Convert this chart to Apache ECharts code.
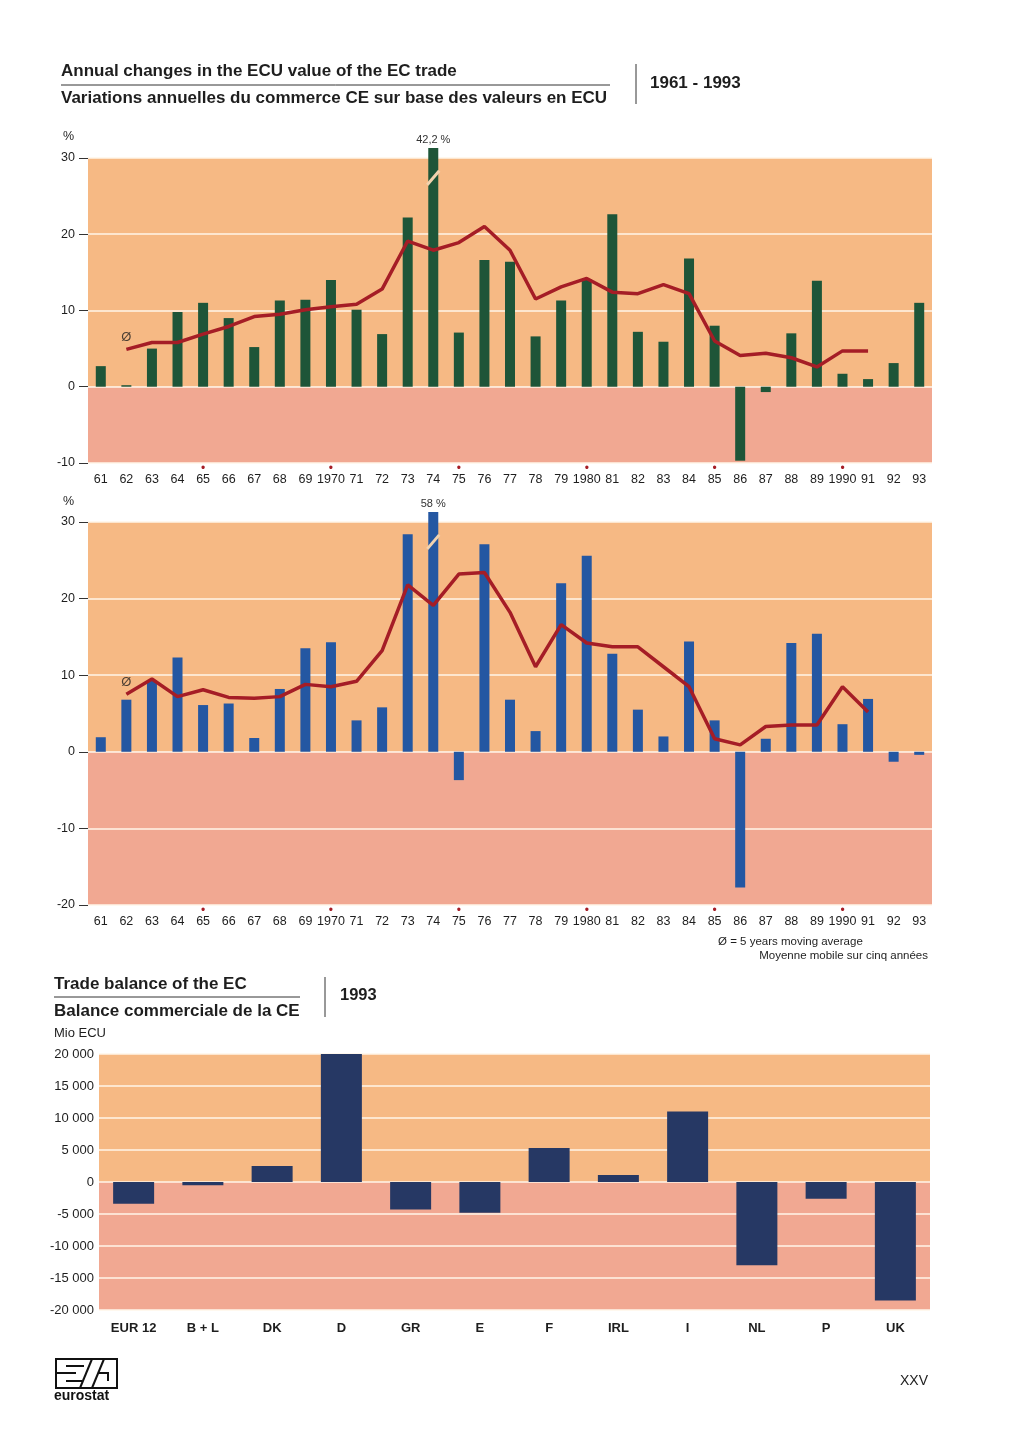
<!DOCTYPE html>
<html><head><meta charset="utf-8">
<script src="https://cdn.jsdelivr.net/npm/echarts@6.0.0/dist/echarts.min.js"></script>
<style>html,body{margin:0;padding:0;background:#fff}#c{width:1024px;height:1448px}</style>
</head><body><div id="c"></div>
<script>
// ---------- data ----------
const years = ['61','62','63','64','65','66','67','68','69','70','71','72','73','74','75','76','77','78','79','80','81','82','83','84','85','86','87','88','89','90','91','92','93'];
const yearLabels = ['61','62','63','64','65','66','67','68','69','1970','71','72','73','74','75','76','77','78','79','1980','81','82','83','84','85','86','87','88','89','1990','91','92','93'];
const markedYears = ['65','1970','75','1980','85','1990'];
const exportChange = [2.7,0.2,5.0,9.8,11.0,9.0,5.2,11.3,11.4,14.0,10.1,6.9,22.2,42.2,7.1,16.6,16.4,6.6,11.3,14.1,22.6,7.2,5.9,16.8,8.0,-9.7,-0.7,7.0,13.9,1.7,1.0,3.1,11.0];
const exportAvg = [null,4.9,5.8,5.8,6.9,7.9,9.2,9.5,10.1,10.5,10.8,12.8,19.1,17.9,18.9,21.0,17.9,11.5,13.1,14.2,12.4,12.2,13.4,12.2,6.0,4.1,4.4,3.8,2.6,4.7,4.7,null,null];
const importChange = [1.9,6.8,9.3,12.3,6.1,6.3,1.8,8.2,13.5,14.3,4.1,5.8,28.4,58,-3.7,27.1,6.8,2.7,22.0,25.6,12.8,5.5,2.0,14.4,4.1,-17.7,1.7,14.2,15.4,3.6,6.9,-1.3,-0.4];
const importAvg = [null,7.5,9.5,7.2,8.1,7.1,7.0,7.2,8.8,8.5,9.2,13.2,21.8,19.1,23.2,23.4,18.2,11.1,16.6,14.2,13.7,13.7,11.1,8.5,1.7,0.9,3.3,3.5,3.5,8.5,5.2,null,null];
const exportTicks = [-10,0,10,20,30];
const importTicks = [-20,-10,0,10,20,30];
const countries = ['EUR 12','B + L','DK','D','GR','E','F','IRL','I','NL','P','UK'];
const balance = [-3400,-500,2500,20000,-4300,-4800,5300,1100,11000,-13000,-2600,-18500];
const balanceTicks = [-20000,-15000,-10000,-5000,0,5000,10000,15000,20000];

// ---------- style ----------
const F = '"Liberation Sans", Arial, Helvetica, sans-serif';
const ORANGE = '#F6B984';
const PINK = '#F1A892';
const TXT = '#1e1e1e';
const RED = '#A51D26';
const GREEN = '#1E5538';
const BLUE = '#2457A2';
const NAVY = '#263864';
const BREAK_AT = 27.4;

const chart = echarts.init(document.getElementById('c'), null, {renderer:'canvas', width:1024, height:1448});

function bandItem(params, api){
  const cs = params.coordSys;
  const y1 = api.coord([0, api.value(1)])[1];
  const y2 = api.coord([0, api.value(2)])[1];
  return {type:'rect', shape:{x:cs.x, y:y1, width:cs.width, height:y2-y1},
    style:{fill: api.value(1) > 0 ? ORANGE : PINK}};
}
function breakItem(params, api){
  const cs = params.coordSys;
  const x = api.coord([api.value(0), 0])[0];
  const y = api.coord([api.value(0), BREAK_AT])[1];
  const v = api.value(1);
  return {type:'group', children:[
    {type:'line', shape:{x1:x-6, y1:y+7, x2:x+6, y2:y-7}, style:{stroke:'#F2D2AE', lineWidth:3}},
    {type:'text', style:{text:String(v).replace('.', ',') + ' %', x:x, y:cs.y-3, align:'center', verticalAlign:'bottom', font:'11px '+F, fill:'#333'}}
  ]};
}
function yearAxis(gridIndex){
  return {type:'category', gridIndex, data:years, boundaryGap:true,
    axisLine:{show:false}, axisTick:{show:false}, splitLine:{show:false},
    axisLabel:{interval:0, margin:1, hideOverlap:false,
      formatter:(v,i)=>{const lab=yearLabels[i]; return (markedYears.includes(lab)?'{d|•}':'{e|•}')+'\n{n|'+lab+'}';},
      rich:{d:{color:RED, fontSize:12, lineHeight:9, fontFamily:F},
            e:{color:'rgba(0,0,0,0)', fontSize:12, lineHeight:9, fontFamily:F},
            n:{color:TXT, fontSize:12.5, lineHeight:14, fontFamily:F}}}};
}
function pctAxis(gridIndex, min, max, ticks){
  return {type:'value', gridIndex, min, max, interval:10, z:1,
    axisLine:{show:false},
    axisTick:{show:true, length:9, customValues:ticks, lineStyle:{color:'#333', width:1}},
    axisLabel:{margin:13, customValues:ticks, color:TXT, fontSize:12.5, fontFamily:F,
      formatter:v=> ticks.includes(v) ? String(v) : ''},
    splitLine:{show:true, lineStyle:{color:'#FFF6E8', width:1.5}}};
}
function firstIdx(arr){ return arr.findIndex(v=>v!==null); }
function overMax(arr, max){ return arr.map((v,i)=> v>max ? [i,v] : null).filter(Boolean); }

const EXP_MAX = 31.3, IMP_MAX = 31.3;
const ei = firstIdx(exportAvg), ii = firstIdx(importAvg);

const option = {
  backgroundColor:'#ffffff',
  animation:false,
  textStyle:{fontFamily:F},
  grid:[
    {left:88, right:92, top:148, height:315, outerBoundsMode:'none'},
    {left:88, right:92, top:512, height:393, outerBoundsMode:'none'},
    {left:99, right:94, top:1054, height:256, outerBoundsMode:'none'}
  ],
  xAxis:[
    yearAxis(0), yearAxis(1),
    {type:'category', gridIndex:2, data:countries, boundaryGap:true,
      axisLine:{show:false}, axisTick:{show:false}, splitLine:{show:false},
      axisLabel:{interval:0, margin:12, color:TXT, fontSize:13, fontWeight:'bold', fontFamily:F}}
  ],
  yAxis:[
    pctAxis(0, -10, EXP_MAX, exportTicks),
    pctAxis(1, -20, IMP_MAX, importTicks),
    {type:'value', gridIndex:2, min:-20000, max:20000, interval:5000, z:1,
      axisLine:{show:false}, axisTick:{show:false},
      axisLabel:{margin:5, color:TXT, fontSize:13, fontFamily:F,
        formatter:v=> (v<0?'-':'') + String(Math.abs(v)).replace(/\B(?=(\d{3})+(?!\d))/g,' ')},
      splitLine:{show:true, lineStyle:{color:'#FFF6E8', width:1.5}}}
  ],
  series:[
    // backgrounds
    {type:'custom', xAxisIndex:0, yAxisIndex:0, z:0, silent:true, renderItem:bandItem, encode:{x:0, y:[1,2]}, data:[[0,30,0],[0,0,-10]]},
    {type:'custom', xAxisIndex:1, yAxisIndex:1, z:0, silent:true, renderItem:bandItem, encode:{x:0, y:[1,2]}, data:[[0,30,0],[0,0,-20]]},
    {type:'custom', xAxisIndex:2, yAxisIndex:2, z:0, silent:true, renderItem:bandItem, encode:{x:0, y:[1,2]}, data:[[0,20000,0],[0,0,-20000]]},
    // export
    {type:'bar', name:'Export', xAxisIndex:0, yAxisIndex:0, z:2, barWidth:10, clip:true, itemStyle:{color:GREEN}, data:exportChange},
    {type:'line', name:'Export Ø', xAxisIndex:0, yAxisIndex:0, z:3, symbol:'none', lineStyle:{color:RED, width:3.5}, data:exportAvg},
    {type:'scatter', xAxisIndex:0, yAxisIndex:0, z:4, symbolSize:2, itemStyle:{color:'rgba(0,0,0,0)'},
      label:{show:true, formatter:'Ø', position:'top', distance:4, color:TXT, fontSize:13, fontFamily:F}, data:[[ei, exportAvg[ei]]]},
    {type:'custom', xAxisIndex:0, yAxisIndex:0, z:5, silent:true, renderItem:breakItem, encode:{x:0, y:1}, data:overMax(exportChange, EXP_MAX)},
    // import
    {type:'bar', name:'Import', xAxisIndex:1, yAxisIndex:1, z:2, barWidth:10, clip:true, itemStyle:{color:BLUE}, data:importChange},
    {type:'line', name:'Import Ø', xAxisIndex:1, yAxisIndex:1, z:3, symbol:'none', lineStyle:{color:RED, width:3.5}, data:importAvg},
    {type:'scatter', xAxisIndex:1, yAxisIndex:1, z:4, symbolSize:2, itemStyle:{color:'rgba(0,0,0,0)'},
      label:{show:true, formatter:'Ø', position:'top', distance:4, color:TXT, fontSize:13, fontFamily:F}, data:[[ii, importAvg[ii]]]},
    {type:'custom', xAxisIndex:1, yAxisIndex:1, z:5, silent:true, renderItem:breakItem, encode:{x:0, y:1}, data:overMax(importChange, IMP_MAX)},
    // balance
    {type:'bar', name:'Balance', xAxisIndex:2, yAxisIndex:2, z:2, barWidth:41, itemStyle:{color:NAVY}, data:balance}
  ],
  graphic:[
    {type:'text', left:61, top:63, style:{text:'Annual changes in the ECU value of the EC trade', font:'bold 17px '+F, fill:TXT}},
    {type:'line', shape:{x1:61, y1:85, x2:610, y2:85}, style:{stroke:'#333', lineWidth:1}},
    {type:'text', left:61, top:90, style:{text:'Variations annuelles du commerce CE sur base des valeurs en ECU', font:'bold 17px '+F, fill:TXT}},
    {type:'line', shape:{x1:636, y1:64, x2:636, y2:104}, style:{stroke:'#333', lineWidth:1}},
    {type:'text', left:650, top:75, style:{text:'1961 - 1993', font:'bold 17px '+F, fill:TXT}},
    {type:'text', left:63, top:130, style:{text:'%', font:'12.5px '+F, fill:TXT}},
    {type:'text', left:113, top:168, style:{text:'Export\nExtra', font:'16px '+F, fill:TXT, lineHeight:21}},
    {type:'text', left:63, top:495, style:{text:'%', font:'12.5px '+F, fill:TXT}},
    {type:'text', left:111, top:531, style:{text:'Import\nExtra', font:'16px '+F, fill:TXT, lineHeight:21}},
    {type:'text', left:718, top:936, style:{text:'Ø = 5 years moving average', font:'11.5px '+F, fill:TXT}},
    {type:'text', right:96, top:950, style:{text:'Moyenne mobile sur cinq années', font:'11.5px '+F, fill:TXT}},
    {type:'text', left:54, top:976, style:{text:'Trade balance of the EC', font:'bold 17px '+F, fill:TXT}},
    {type:'line', shape:{x1:54, y1:997, x2:300, y2:997}, style:{stroke:'#333', lineWidth:1}},
    {type:'text', left:54, top:1003, style:{text:'Balance commerciale de la CE', font:'bold 17px '+F, fill:TXT}},
    {type:'line', shape:{x1:325, y1:977, x2:325, y2:1017}, style:{stroke:'#333', lineWidth:1}},
    {type:'text', left:340, top:987, style:{text:'1993', font:'bold 16.5px '+F, fill:TXT}},
    {type:'text', left:54, top:1027, style:{text:'Mio ECU', font:'13px '+F, fill:TXT}},
    {type:'text', right:96, top:1374, style:{text:'XXV', font:'14px '+F, fill:TXT}},
    // eurostat logo
    {type:'group', children:[
      {type:'rect', shape:{x:56, y:1359, width:61, height:29}, style:{fill:'none', stroke:'#111', lineWidth:2}},
      {type:'polyline', shape:{points:[[56,1373],[76,1373]]}, style:{stroke:'#111', lineWidth:2}},
      {type:'polyline', shape:{points:[[66,1366],[84,1366]]}, style:{stroke:'#111', lineWidth:2}},
      {type:'polyline', shape:{points:[[66,1381],[82,1381]]}, style:{stroke:'#111', lineWidth:2}},
      {type:'line', shape:{x1:80, y1:1388, x2:92, y2:1359}, style:{stroke:'#111', lineWidth:2}},
      {type:'line', shape:{x1:92, y1:1388, x2:104, y2:1359}, style:{stroke:'#111', lineWidth:2}},
      {type:'polyline', shape:{points:[[98,1373],[108,1373],[108,1381]]}, style:{stroke:'#111', lineWidth:2, fill:'none'}},
      {type:'text', left:54, top:1389, style:{text:'eurostat', font:'bold 14px '+F, fill:'#111'}}
    ]}
  ]
};
chart.setOption(option);
</script>
</body></html>
